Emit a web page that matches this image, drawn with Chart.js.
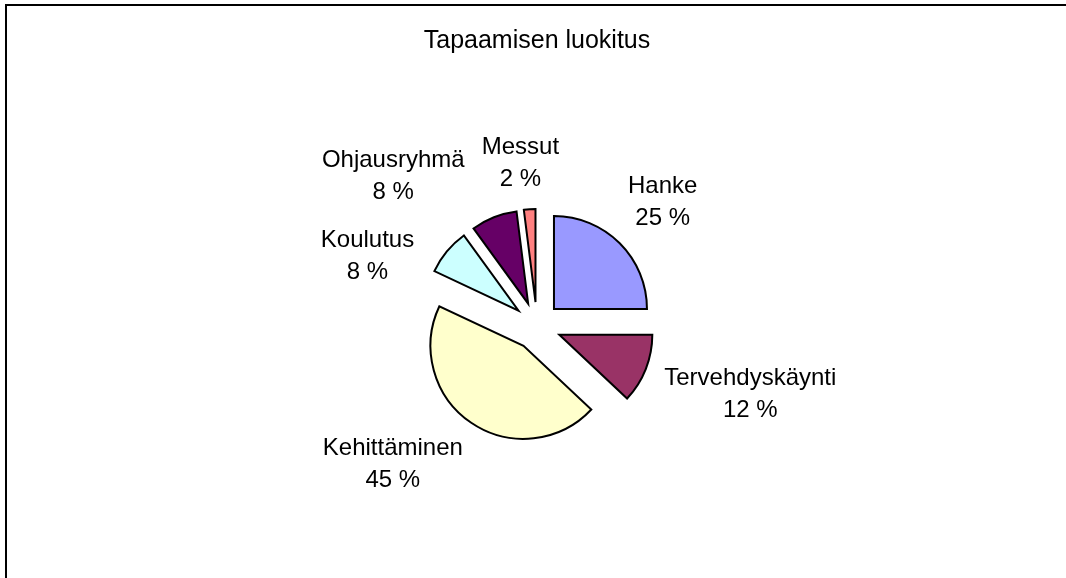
<!DOCTYPE html>
<html>
<head>
<meta charset="utf-8">
<script src="https://cdn.jsdelivr.net/npm/chart.js@4/dist/chart.umd.min.js"></script>
<style>
  html, body { margin: 0; padding: 0; background: #fff; overflow: hidden; }
  #wrap { position: relative; width: 1066px; height: 578px; }
  #frame { position: absolute; left: 5px; top: 4px; right: -10px; bottom: -10px;
           border-left: 2px solid #000; border-top: 2px solid #000; pointer-events: none; }
  canvas { position: absolute; left: 0; top: 0; }
</style>
</head>
<body>
<div id="wrap">
  <canvas id="c" width="1066" height="578"></canvas>
  <div id="frame"></div>
</div>
<script>
// ---- data ----
const categories = ['Hanke', 'Tervehdyskäynti', 'Kehittäminen', 'Koulutus', 'Ohjausryhmä', 'Messut'];
const values = [25, 12, 45, 8, 8, 2];
const chartTitle = 'Tapaamisen luokitus';

// ---- style ----
const sliceColors = ['#9999FF', '#993366', '#FFFFCC', '#CCFFFF', '#660066', '#FF8080'];
const explode = 24;          // px each slice is pulled out
const pieRadius = 93;
const labelGap = 28;
// label collision nudges (angle in degrees, radial in px)
const labelAngleShift = [0, 1, 6.5, -15.5, -17, -2];
const labelRadialShift = [-2, 0, 6, -6, 14, -14];
const labelFont = '24px "Liberation Sans", Arial, sans-serif';
const lineStep = 32;

const total = values.reduce((a, b) => a + b, 0);

const explodePlugin = {
  id: 'explode',
  beforeDatasetDraw(chart, args) {
    args.meta.data.forEach(arc => {
      const mid = (arc.startAngle + arc.endAngle) / 2;
      arc._ox = arc.x; arc._oy = arc.y;
      arc.x += Math.cos(mid) * explode;
      arc.y += Math.sin(mid) * explode;
    });
  },
  afterDatasetDraw(chart, args) {
    args.meta.data.forEach(arc => { arc.x = arc._ox; arc.y = arc._oy; });
  }
};

const labelPlugin = {
  id: 'outLabels',
  afterDraw(chart) {
    const ctx = chart.ctx;
    const meta = chart.getDatasetMeta(0);
    ctx.save();
    ctx.font = labelFont;
    ctx.fillStyle = '#000';
    ctx.textAlign = 'center';
    ctx.textBaseline = 'middle';
    meta.data.forEach((arc, i) => {
      const l1 = categories[i];
      const l2 = Math.round(values[i] / total * 100) + ' %';
      const w = Math.max(ctx.measureText(l1).width, ctx.measureText(l2).width);
      const h = lineStep * 2;
      const a = (arc.startAngle + arc.endAngle) / 2 + labelAngleShift[i] * Math.PI / 180;
      const R = arc.outerRadius + explode + labelGap + labelRadialShift[i];
      const cx = arc.x + Math.cos(a) * (R + w / 2);
      const cy = arc.y + Math.sin(a) * (R + h / 2);
      ctx.fillText(l1, cx, cy - lineStep / 2);
      ctx.fillText(l2, cx, cy + lineStep / 2);
    });
    ctx.restore();
  }
};

new Chart(document.getElementById('c'), {
  type: 'pie',
  data: {
    labels: categories,
    datasets: [{
      data: values,
      backgroundColor: sliceColors,
      borderColor: '#000',
      borderWidth: 2,
      borderJoinStyle: 'miter'
    }]
  },
  options: {
    responsive: false,
    animation: false,
    events: [],
    radius: pieRadius,
    layout: { padding: { left: 108, right: 100, top: 0, bottom: 50 } },
    plugins: {
      legend: { display: false },
      tooltip: { enabled: false },
      title: {
        display: true,
        text: chartTitle,
        color: '#000',
        font: { family: '"Liberation Sans", Arial, sans-serif', size: 25, weight: 'normal' },
        padding: { top: 26, bottom: 68 }
      }
    }
  },
  plugins: [explodePlugin, labelPlugin]
});
</script>
</body>
</html>
